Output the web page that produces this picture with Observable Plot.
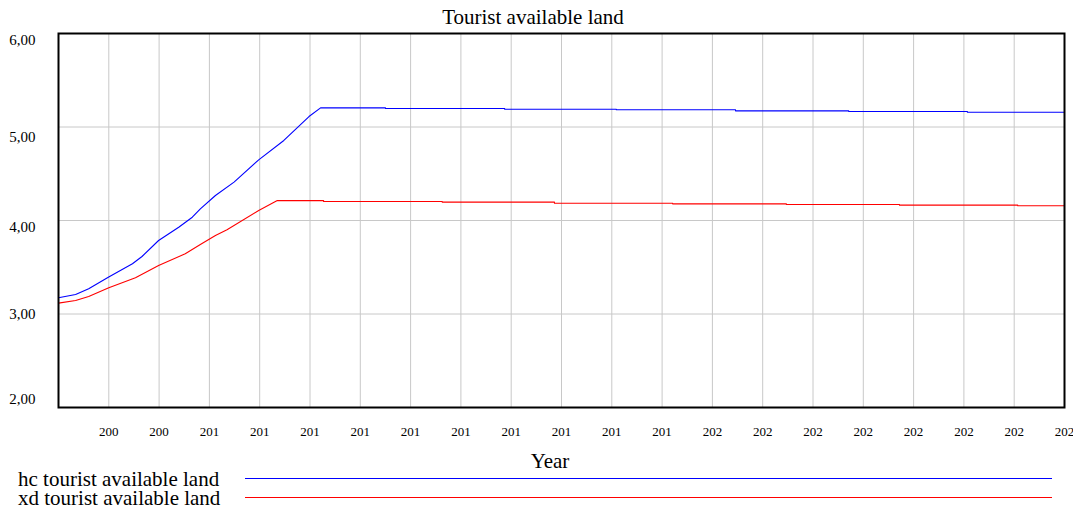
<!DOCTYPE html>
<html>
<head>
<meta charset="utf-8">
<script src="https://cdn.jsdelivr.net/npm/d3@7"></script>
<script src="https://cdn.jsdelivr.net/npm/@observablehq/plot@0.6"></script>
<style>
  html, body { margin: 0; padding: 0; background: #fff; }
  body { font-family: "Liberation Serif", "Times New Roman", serif; color: #000; }
  #wrap { width: 1073px; height: 508px; overflow: hidden; }
  #title { height: 31px; width: 1066px; text-align: center; font-size: 21px; line-height: 27px; padding-top: 4px; box-sizing: border-box; }
  #xlabel { height: 31px; position: relative; }
  #xlabel span { position: absolute; left: 550px; top: 22px; transform: translate(-50%, -50%); font-size: 21px; line-height: 21px; white-space: nowrap; }
  .lg { height: 19px; position: relative; }
  .lg span { position: absolute; left: 18px; top: 9px; transform: translateY(-50%); font-size: 21px; line-height: 19px; white-space: nowrap; }
  .lg svg { position: absolute; left: 245px; top: 6px; }
  svg { display: block; }
  #plot svg text { font-family: "Liberation Serif", "Times New Roman", serif !important; }
</style>
</head>
<body>
<div id="wrap">
  <div id="title"></div>
  <div id="plot"></div>
  <div id="xlabel"><span></span></div>
  <div id="legend"></div>
</div>
<script>
const chartTitle = "Tourist available land";
const xAxisTitle = "Year";
const seriesNames = ["hc tourist available land", "xd tourist available land"];
const seriesColors = ["#0000ff", "#ff0000"];

const xTickYears = [2008, 2009, 2010, 2011, 2012, 2013, 2014, 2015, 2016, 2017,
                    2018, 2019, 2020, 2021, 2022, 2023, 2024, 2025, 2026, 2027];
const xTickLabels = ["200", "200", "201", "201", "201", "201", "201", "201", "201", "201",
                     "201", "201", "202", "202", "202", "202", "202", "202", "202", "202"];
const yTicks = [2, 3, 4, 5, 6];
const yTickLabels = ["2,00", "3,00", "4,00", "5,00", "6,00"];

const hcYears = [2007.0, 2007.34, 2007.60, 2007.99, 2008.47, 2008.66, 2008.99, 2009.39, 2009.66, 2009.82,
                 2010.12, 2010.49, 2010.98, 2011.48, 2011.98, 2012.21, 2013.5, 2013.5, 2015.87, 2015.87,
                 2018.09, 2018.09, 2020.46, 2020.46, 2022.71, 2022.71, 2025.07, 2025.07, 2027];
const hcValues = [3.173, 3.209, 3.27, 3.394, 3.537, 3.615, 3.786, 3.928, 4.035, 4.125,
                  4.267, 4.41, 4.649, 4.856, 5.112, 5.205, 5.205, 5.198, 5.198, 5.19,
                  5.19, 5.184, 5.184, 5.173, 5.173, 5.166, 5.166, 5.158, 5.158];

const xdYears = [2007.0, 2007.34, 2007.60, 2008.0, 2008.53, 2008.99, 2009.52, 2009.82, 2010.12, 2010.35,
                 2010.98, 2011.35, 2012.27, 2012.27, 2014.63, 2014.63, 2016.86, 2016.86, 2019.21, 2019.21,
                 2021.47, 2021.47, 2023.72, 2023.72, 2026.07, 2026.07, 2027];
const xdValues = [3.116, 3.144, 3.187, 3.28, 3.387, 3.519, 3.644, 3.743, 3.84, 3.901,
                  4.107, 4.213, 4.213, 4.204, 4.204, 4.196, 4.196, 4.185, 4.185, 4.178,
                  4.178, 4.171, 4.171, 4.164, 4.164, 4.157, 4.157];

const hcData = hcYears.map((y, i) => ({year: y, value: hcValues[i]}));
const xdData = xdYears.map((y, i) => ({year: y, value: xdValues[i]}));

document.getElementById("title").textContent = chartTitle;
document.querySelector("#xlabel span").textContent = xAxisTitle;

const serif = '"Liberation Serif", "Times New Roman", serif';
// per-label vertical nudges (Vensim-style label placement)
const yLabelShift = {2: -8, 3: 0, 4: 7, 5: 10, 6: 7};

const yLabelAxes = yTicks.map((t, i) => Plot.axisY([t], {
  anchor: "left",
  tickSize: 0,
  tickPadding: 23,
  fontSize: 15,
  fontFamily: serif,
  dy: yLabelShift[t],
  tickFormat: () => yTickLabels[i],
  label: null
}));

const chart = Plot.plot({
  width: 1073,
  height: 408,
  marginTop: 2,
  marginBottom: 32,
  marginLeft: 58,
  marginRight: 9,
  style: {fontFamily: serif, color: "#000", background: "#fff"},
  x: {domain: [2007, 2027], label: null},
  y: {domain: [2, 6], label: null},
  marks: [
    Plot.gridX(xTickYears, {stroke: "#c8c8c8", strokeOpacity: 1, strokeWidth: 1}),
    Plot.gridY(yTicks, {stroke: "#c8c8c8", strokeOpacity: 1, strokeWidth: 1}),
    Plot.line(hcData, {x: "year", y: "value", stroke: seriesColors[0], strokeWidth: 1.1}),
    Plot.line(xdData, {x: "year", y: "value", stroke: seriesColors[1], strokeWidth: 1.1}),
    Plot.frame({stroke: "#000", strokeWidth: 2}),
    Plot.axisX(xTickYears, {
      anchor: "bottom",
      tickSize: 0,
      tickPadding: 19,
      fontSize: 13,
      fontFamily: serif,
      tickFormat: (d) => xTickLabels[xTickYears.indexOf(d)],
      label: null
    }),
    ...yLabelAxes
  ]
});
document.getElementById("plot").appendChild(chart);

const NS = "http://www.w3.org/2000/svg";
const legend = document.getElementById("legend");
seriesNames.forEach((name, i) => {
  const row = document.createElement("div");
  row.className = "lg";
  const s = document.createElement("span");
  s.textContent = name;
  const svg = document.createElementNS(NS, "svg");
  svg.setAttribute("width", "807");
  svg.setAttribute("height", "5");
  const ln = document.createElementNS(NS, "line");
  ln.setAttribute("x1", "0");
  ln.setAttribute("x2", "807");
  ln.setAttribute("y1", "2.5");
  ln.setAttribute("y2", "2.5");
  ln.setAttribute("stroke", seriesColors[i]);
  ln.setAttribute("stroke-width", "1.4");
  ln.setAttribute("shape-rendering", "crispEdges");
  svg.appendChild(ln);
  row.appendChild(s);
  row.appendChild(svg);
  legend.appendChild(row);
});
</script>
</body>
</html>
